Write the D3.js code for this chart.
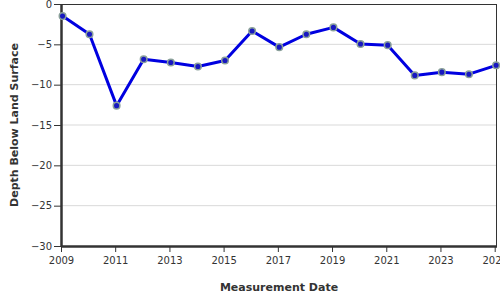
<!DOCTYPE html>
<html><head><meta charset="utf-8">
<script src="https://cdn.jsdelivr.net/npm/d3@7"></script>
<style>body{margin:0;background:#fff}svg{display:block;font-family:"DejaVu Sans",Verdana,sans-serif}</style>
</head><body><svg id="c" width="500" height="300"></svg>
<script>
const dates = ["2009-01-22","2010-01-20","2011-01-20","2012-01-20","2013-01-20","2014-01-20","2015-01-20","2016-01-20","2017-01-20","2018-01-20","2019-01-20","2020-01-20","2021-01-20","2022-01-20","2023-01-20","2024-01-20","2025-01-20"];
const depths = [-1.5,-3.75,-12.6,-6.85,-7.25,-7.75,-7.0,-3.35,-5.35,-3.75,-2.9,-4.95,-5.1,-8.85,-8.45,-8.7,-7.6];
const yTicks = [0,-5,-10,-15,-20,-25,-30];
const xTickYears = [2009,2011,2013,2015,2017,2019,2021,2023,2025];

const parse = d3.timeParse("%Y-%m-%d");
const data = dates.map((d,i)=>({date:parse(d), v:depths[i]}));
const svg = d3.select("#c");
const L=61,R=497,T=4,B=246;
const x = d3.scaleTime().domain([parse("2009-01-01"), parse("2025-02-01")]).range([L,R]);
const y = d3.scaleLinear().domain([-30,0]).range([B,T]);

// grid
svg.append("g").selectAll("line").data(yTicks.filter(t=>t!==0&&t!==-30)).join("line")
  .attr("x1",L).attr("x2",R).attr("y1",d=>y(d)).attr("y2",d=>y(d))
  .attr("stroke","#d9d9d9").attr("stroke-width",1);

// frame top/right
svg.append("line").attr("x1",L).attr("x2",R).attr("y1",T+0.5).attr("y2",T+0.5).attr("stroke","#333").attr("stroke-width",1);
svg.append("line").attr("x1",R-0.5).attr("x2",R-0.5).attr("y1",T).attr("y2",B).attr("stroke","#333").attr("stroke-width",1);

const yAxis = svg.append("g").attr("transform",`translate(${L},0)`)
  .call(d3.axisLeft(y).tickValues(yTicks).tickFormat(d3.format("d")).tickSize(7).tickPadding(2));
const xAxis = svg.append("g").attr("transform",`translate(0,${B})`)
  .call(d3.axisBottom(x).tickValues(xTickYears.map(yy=>new Date(yy,0,1))).tickFormat(d3.timeFormat("%Y")).tickSize(6).tickPadding(5));
[yAxis,xAxis].forEach(g=>{
  g.select(".domain").attr("stroke","#333").attr("stroke-width",2.5);
  g.selectAll(".tick line").attr("stroke","#333").attr("stroke-width",1);
  g.selectAll(".tick text").attr("fill","#333").attr("font-size",10).attr("font-family","DejaVu Sans");
});
yAxis.select(".domain").attr("d",`M0.5,${T}V${B}`);
xAxis.select(".domain").attr("d",`M${L},0.5H${R}`);

// line
svg.append("path").datum(data)
  .attr("d",d3.line().x(d=>x(d.date)).y(d=>y(d.v)))
  .attr("fill","none").attr("stroke","#0000e0").attr("stroke-width",3).attr("stroke-linejoin","round");
svg.append("g").selectAll("circle").data(data).join("circle")
  .attr("cx",d=>x(d.date)).attr("cy",d=>y(d.v)).attr("r",3.3)
  .attr("fill","#1818c0").attr("stroke","#8aa09a").attr("stroke-width",1.5);

// labels
svg.append("text").attr("x",279).attr("y",291).attr("text-anchor","middle")
  .attr("font-size",11).attr("font-weight","bold").attr("fill","#333").text("Measurement Date");
svg.append("text").attr("transform",`translate(18,${(T+B)/2}) rotate(-90)`).attr("text-anchor","middle")
  .attr("font-size",11).attr("font-weight","bold").attr("fill","#333").text("Depth Below Land Surface");
</script></body></html>
